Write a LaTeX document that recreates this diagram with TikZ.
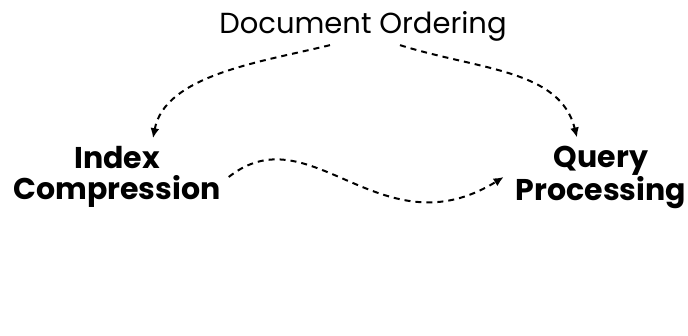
\documentclass[tikz,border=0pt]{standalone}
\usepackage{fontspec}
\setmainfont{Poppins}
\usepackage{tikz}
\usetikzlibrary{arrows.meta, positioning}

\begin{document}
\begin{tikzpicture}[x=1pt, y=-1pt,
  topic/.style={inner sep=0pt, align=center, font=\fontsize{29}{34}\selectfont},
  area/.style={inner sep=0pt, align=center, font=\bfseries\fontsize{30}{31}\selectfont},
  flow/.style={line width=2pt, dash pattern=on 6pt off 5pt, -{Latex[length=10pt,width=9pt]}}]
\useasboundingbox (0,0) rectangle (688,336);
%
\node[topic] (order) at (363,26) {Document Ordering};
\node[area] (comp) at (117,177) {Index\\Compression};
\node[area] (query) at (601,177) {Query\\Processing};
%
\draw[flow] ([xshift=-33pt,yshift=-4pt]order.south) .. controls +(-70,17) and +(12,-63) .. ([xshift=36pt,yshift=8pt]comp.north);
\draw[flow] ([xshift=37pt,yshift=-4pt]order.south) .. controls +(80,25) and +(-17,-68) .. ([xshift=-24pt,yshift=8pt]query.north);
\draw[flow] ([xshift=8pt]comp.east) .. controls +(82,-65) and +(-123,76) .. ([xshift=-12pt]query.west);
%
\end{tikzpicture}
\end{document}
